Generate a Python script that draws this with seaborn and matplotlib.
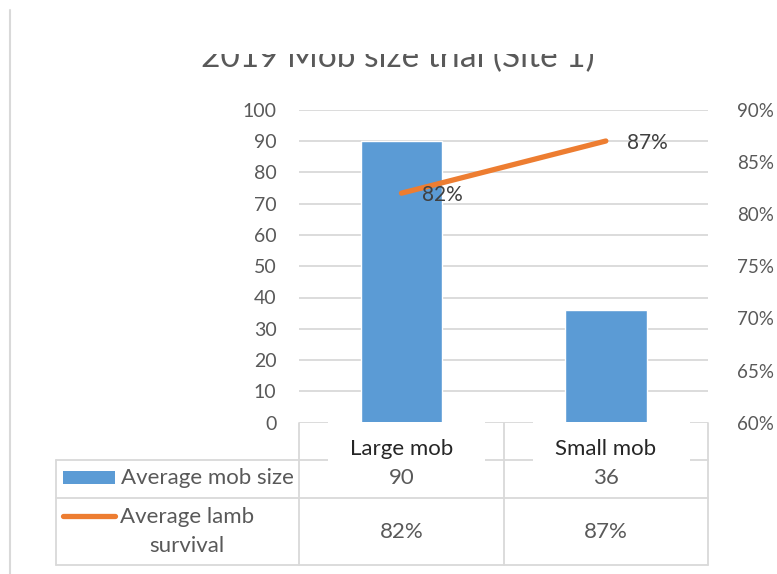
import matplotlib
matplotlib.use("Agg")
import matplotlib.pyplot as plt
from matplotlib.patches import Rectangle
from matplotlib.lines import Line2D
from matplotlib.transforms import Affine2D
from matplotlib.ticker import PercentFormatter
import numpy as np
import pandas as pd
import seaborn as sns

# ---- data -------------------------------------------------------------
title = "2019 Mob size trial (Site 1)"
categories = ["Large mob", "Small mob"]
mob_size = [90, 36]
lamb_survival = [0.82, 0.87]
series_names = ["Average mob size", "Average lamb\nsurvival"]
size_ticks = [0, 10, 20, 30, 40, 50, 60, 70, 80, 90, 100]
survival_ticks = [0.60, 0.65, 0.70, 0.75, 0.80, 0.85, 0.90]

# ---- style ------------------------------------------------------------
BLUE = "#5B9BD5"
ORANGE = "#ED7D31"
GRID = "#D9D9D9"
TEXT = "#595959"
DARK = "#262626"
LABEL = "#404040"

sns.set_theme(style="white")
plt.rcParams["font.family"] = ["Lato", "DejaVu Sans"]

W, H = 777, 574
fig = plt.figure(figsize=(W / 100, H / 100), dpi=100)
fig.patch.set_facecolor("white")

# transform for positions given in pixels measured from the top-left corner
pxT = Affine2D().scale(1 / W, -1 / H).translate(0, 1) + fig.transFigure


def rect(x0, y0, x1, y1):
    return [x0 / W, 1 - y1 / H, (x1 - x0) / W, (y1 - y0) / H]


plot_top, plot_bottom = 109.7, 422.7
ax = fig.add_axes(rect(299.3, plot_top, 708.0, plot_bottom))
ax2 = ax.twinx()

df = pd.DataFrame({"category": categories, "size": mob_size,
                   "survival": lamb_survival})

# bars: average mob size (primary axis)
sns.barplot(data=df, x="category", y="size", color=BLUE, saturation=1,
            width=0.4, ax=ax, zorder=2)
ax.set_xlim(-0.5, len(categories) - 0.5)
ax.set_ylim(size_ticks[0], size_ticks[-1])
ax.set_yticks(size_ticks)
ax.set_xlabel("")
ax.set_ylabel("")
for s in ax.spines.values():
    s.set_visible(False)
ax.tick_params(axis="y", which="both", left=False, right=False,
               labelleft=True, length=0, labelsize=14, labelcolor=TEXT, pad=16.5)
ax.tick_params(axis="x", bottom=False, labelbottom=False, length=0)
ax.set_axisbelow(True)
ax.grid(True, axis="y", color=GRID, linewidth=1.3)
ax.grid(False, axis="x")

# line: average lamb survival (secondary axis)
xpos = np.arange(len(categories))
sns.lineplot(x=xpos, y=lamb_survival, color=ORANGE, linewidth=3.8,
             ax=ax2, solid_capstyle="round")
ax2.set_ylim(survival_ticks[0], survival_ticks[-1])
ax2.set_yticks(survival_ticks)
ax2.yaxis.set_major_formatter(PercentFormatter(1.0, decimals=0))
ax2.set_xlim(-0.5, len(categories) - 0.5)
ax2.set_ylabel("")
for s in ax2.spines.values():
    s.set_visible(False)
ax2.tick_params(axis="y", right=False, length=0, labelsize=13.5,
                labelcolor=TEXT, pad=21)
ax2.grid(False)

for x, v in zip(xpos, lamb_survival):
    ax2.annotate(f"{v:.0%}", (x, v), xytext=(15, -1.5), textcoords="offset points",
                 ha="left", va="center", fontsize=15, color=LABEL)

# ---- title (top part hidden behind the white band) ----------------------
fig.text(398 / W, 1 - 67.3 / H, title, ha="center", va="baseline",
         fontsize=24, color=TEXT)
fig.add_artist(Rectangle((0, 0), W, 54, transform=pxT, facecolor="white",
                         edgecolor="none", zorder=10))
fig.add_artist(Line2D([9.5, 9.5], [10, H], transform=pxT, color=GRID,
                      linewidth=1.5, zorder=11))

# ---- data table -------------------------------------------------------
fig.canvas.draw()


def col_px(x):
    return ax.transData.transform((x, 0))[0]


centers = [col_px(x) for x in xpos]
edges = [col_px(x - 0.5) for x in xpos] + [col_px(xpos[-1] + 0.5)]
left_edge = 55.7
row_header_bottom, row1_bottom, row2_bottom = 460.0, 498.0, 565.0

tbl = dict(transform=pxT, color=GRID, linewidth=1.3, zorder=2)
# horizontal rules
fig.add_artist(Line2D([left_edge, edges[-1]], [row_header_bottom] * 2, **tbl))
fig.add_artist(Line2D([left_edge, edges[-1]], [row1_bottom] * 2, **tbl))
fig.add_artist(Line2D([left_edge, edges[-1]], [row2_bottom] * 2, **tbl))
# vertical rules
fig.add_artist(Line2D([left_edge] * 2, [row_header_bottom, row2_bottom], **tbl))
for e in edges:
    fig.add_artist(Line2D([e] * 2, [plot_bottom, row2_bottom], **tbl))

# category header cells with white label boxes over the rules
for c, name in zip(centers, categories):
    fig.add_artist(Rectangle((c - 73, plot_bottom - 0.3), 157, 39.3,
                             transform=pxT, facecolor="white",
                             edgecolor="none", zorder=2.5))
    fig.text(c / W, 1 - 449 / H, name, ha="center", va="center",
             fontsize=16, color=DARK, zorder=3)

# value rows
for c, v in zip(centers, mob_size):
    fig.text(c / W, 1 - 478 / H, f"{v}", ha="center", va="center",
             fontsize=16, color=TEXT)
for c, v in zip(centers, lamb_survival):
    fig.text(c / W, 1 - 531.5 / H, f"{v:.0%}", ha="center", va="center",
             fontsize=16, color=TEXT)

# legend keys and series names
fig.add_artist(Rectangle((63, 471), 52, 13, transform=pxT, facecolor=BLUE,
                         edgecolor="none", zorder=3))
fig.add_artist(Line2D([63, 115], [516, 516], transform=pxT, color=ORANGE,
                      linewidth=3.8, solid_capstyle="round", zorder=3))
fig.text(121 / W, 1 - 478 / H, series_names[0], ha="left", va="center",
         fontsize=16, color=TEXT)
fig.text(187 / W, 1 - 531.5 / H, series_names[1], ha="center", va="center",
         multialignment="center", fontsize=16, color=TEXT, linespacing=1.55)

fig.savefig("out.png", dpi=100, facecolor="white")
